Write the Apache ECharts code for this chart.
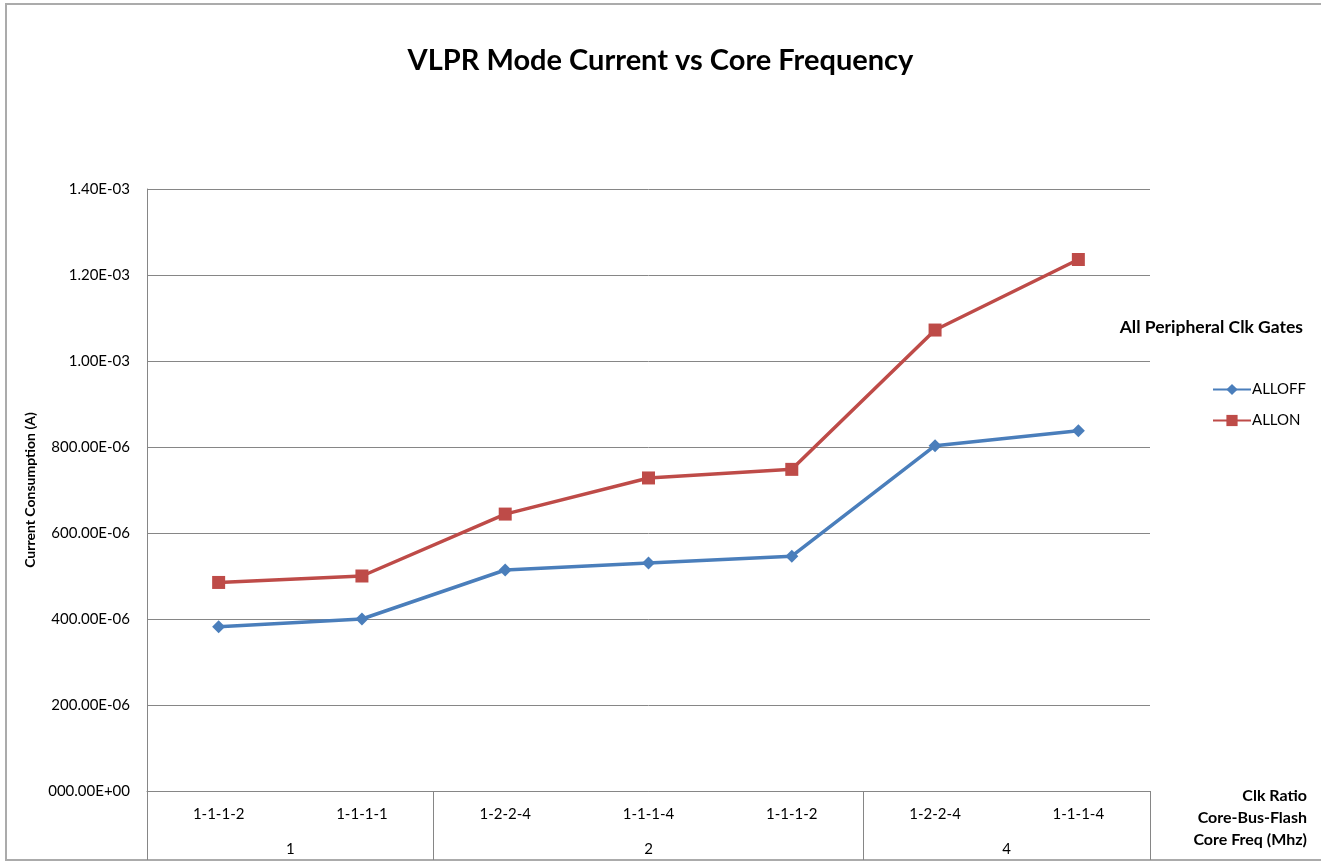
<!DOCTYPE html>
<html>
<head>
<meta charset="utf-8">
<script src="https://cdn.jsdelivr.net/npm/echarts@6/dist/echarts.min.js"></script>
<style>
  html, body { margin: 0; padding: 0; background: #fff; }
  #main { width: 1321px; height: 864px; }
</style>
</head>
<body>
<div id="main"></div>
<script>
// categories: clock ratio (core-bus-flash) and core freq group
var clkRatios = ['1-1-1-2', '1-1-1-1', '1-2-2-4', '1-1-1-4', '1-1-1-2', '1-2-2-4', '1-1-1-4'];
var freqGroups = ['1', '2', '4'];
var freqGroupBounds = [0, 2, 5, 7];    // category index where each group starts/ends
var freqGroupCenters = [1, 3.5, 6];
// current consumption (A)
var allOff = [382e-6, 400e-6, 514e-6, 530e-6, 546e-6, 803e-6, 838e-6];
var allOn = [485e-6, 500e-6, 644e-6, 728e-6, 748e-6, 1072e-6, 1236e-6];
// y tick labels, Excel style
var yTickLabels = ['000.00E+00', '200.00E-06', '400.00E-06', '600.00E-06', '800.00E-06', '1.00E-03', '1.20E-03', '1.40E-03'];
var xAxisTitles = ['Clk Ratio', 'Core-Bus-Flash', 'Core Freq (Mhz)'];

var FONT = 'Lato, "Open Sans", sans-serif';
var myChart = echarts.init(document.getElementById('main'));

// right aligned axis titles in the bottom right corner
var cornerTexts = xAxisTitles.map(function (t, i) {
    return {
        type: 'text',
        x: 1307,
        y: 788 + i * 22,
        style: { text: t, align: 'right', verticalAlign: 'top', font: 'bold 16px ' + FONT, fill: '#000' }
    };
});

var option = {
    backgroundColor: '#fff',
    textStyle: { fontFamily: FONT },
    title: [{
        text: 'VLPR Mode Current vs Core Frequency',
        left: 'center',
        top: 41,
        textStyle: { fontSize: 29, fontWeight: 'bold', color: '#000', fontFamily: FONT }
    }, {
        text: 'All Peripheral Clk Gates',
        right: 13,
        top: 313,
        textStyle: { fontSize: 17.5, fontWeight: 'bold', color: '#000', fontFamily: FONT }
    }],
    legend: {
        orient: 'vertical',
        left: 1207,
        top: 377,
        itemWidth: 38,
        itemHeight: 14,
        itemGap: 16,
        textStyle: { fontSize: 15, color: '#000', fontFamily: FONT, padding: [0, 0, 0, -4] },
        data: ['ALLOFF', 'ALLON']
    },
    grid: { left: 147, right: 171, top: 189, bottom: 73 },
    xAxis: [{
        type: 'category',
        data: clkRatios,
        boundaryGap: true,
        axisLine: { lineStyle: { color: '#868686', width: 1 } },
        axisTick: { show: false },
        axisLabel: { margin: 16, fontSize: 15, color: '#000', fontFamily: FONT, interval: 0 }
    }, {
        type: 'value',
        position: 'bottom',
        min: 0,
        max: 7,
        splitLine: { show: false },
        axisLine: { show: false },
        axisTick: {
            show: true,
            customValues: freqGroupBounds,
            length: 69,
            lineStyle: { color: '#868686', width: 1 }
        },
        axisLabel: {
            customValues: freqGroupCenters,
            margin: 51,
            fontSize: 15,
            color: '#000',
            fontFamily: FONT,
            formatter: function (v) {
                var i = freqGroupCenters.indexOf(v);
                return i >= 0 ? freqGroups[i] : '';
            }
        }
    }],
    yAxis: {
        type: 'value',
        min: 0,
        max: 1.4e-3,
        interval: 2e-4,
        name: 'Current Consumption (A)',
        nameLocation: 'middle',
        nameGap: 110,
        nameTextStyle: { fontSize: 14, fontWeight: 'bold', color: '#000', fontFamily: FONT },
        axisLine: { show: true, lineStyle: { color: '#868686', width: 1 } },
        axisTick: { show: false },
        splitLine: { lineStyle: { color: '#868686', width: 1 } },
        axisLabel: {
            margin: 17,
            fontSize: 15,
            color: '#000',
            fontFamily: FONT,
            formatter: function (v) {
                return yTickLabels[Math.round(v / 2e-4)];
            }
        }
    },
    series: [{
        name: 'ALLOFF',
        type: 'line',
        data: allOff,
        symbol: 'diamond',
        symbolSize: 13,
        color: '#4A7EBB',
        lineStyle: { width: 3.5, color: '#4A7EBB' },
        itemStyle: { color: '#4A7EBB' }
    }, {
        name: 'ALLON',
        type: 'line',
        data: allOn,
        symbol: 'rect',
        symbolSize: 13,
        color: '#BE4B48',
        lineStyle: { width: 3.5, color: '#BE4B48' },
        itemStyle: { color: '#BE4B48' }
    }],
    graphic: [{
        type: 'rect',
        shape: { x: 6, y: 4, width: 1330, height: 856 },
        style: { fill: 'none', stroke: '#ababab', lineWidth: 2 },
        silent: true
    }].concat(cornerTexts)
};

myChart.setOption(option);
</script>
</body>
</html>
